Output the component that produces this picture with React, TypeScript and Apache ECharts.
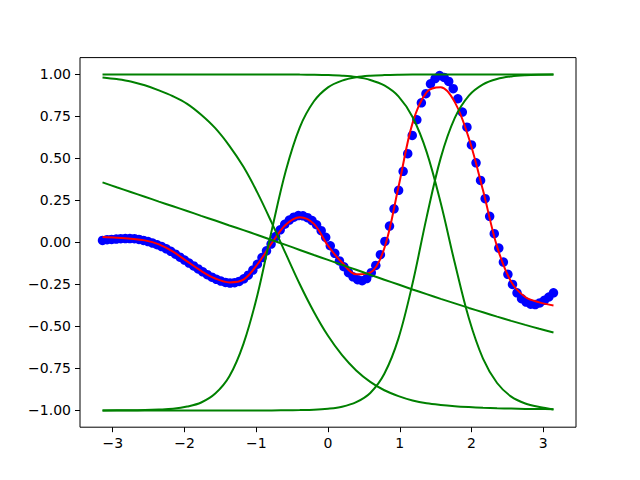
import React, { useEffect, useRef } from "react";
import * as echarts from "echarts";

// Sample positions of the blue observations (x) and their values (y)
const dotX = [
  -3.142, -3.078, -3.015, -2.951, -2.888, -2.824, -2.761, -2.697, -2.634, -2.571,
  -2.507, -2.444, -2.38, -2.317, -2.253, -2.19, -2.126, -2.063, -1.999, -1.936,
  -1.872, -1.809, -1.745, -1.682, -1.618, -1.555, -1.492, -1.428, -1.365, -1.301,
  -1.238, -1.174, -1.111, -1.047, -0.984, -0.92, -0.857, -0.793, -0.73, -0.666,
  -0.603, -0.539, -0.476, -0.413, -0.349, -0.286, -0.222, -0.159, -0.095, -0.032,
  0.032, 0.095, 0.159, 0.222, 0.286, 0.349, 0.413, 0.476, 0.539, 0.603,
  0.666, 0.73, 0.793, 0.857, 0.92, 0.984, 1.047, 1.111, 1.174, 1.238,
  1.301, 1.365, 1.428, 1.492, 1.555, 1.618, 1.682, 1.745, 1.809, 1.872,
  1.936, 1.999, 2.063, 2.126, 2.19, 2.253, 2.317, 2.38, 2.444, 2.507,
  2.571, 2.634, 2.697, 2.761, 2.824, 2.888, 2.951, 3.015, 3.078, 3.142,
];
const dotY = [
  0.012, 0.016, 0.018, 0.02, 0.022, 0.023, 0.023, 0.022, 0.018, 0.012,
  0.005, -0.004, -0.014, -0.025, -0.038, -0.053, -0.07, -0.088, -0.105, -0.123,
  -0.14, -0.158, -0.175, -0.192, -0.207, -0.22, -0.23, -0.238, -0.242, -0.24,
  -0.232, -0.217, -0.195, -0.165, -0.13, -0.09, -0.05, -0.01, 0.035, 0.075,
  0.108, 0.133, 0.15, 0.16, 0.158, 0.147, 0.13, 0.105, 0.07, 0.03,
  -0.02, -0.065, -0.11, -0.145, -0.18, -0.205, -0.222, -0.228, -0.215, -0.18,
  -0.137, -0.073, 0.006, 0.097, 0.2, 0.31, 0.423, 0.528, 0.637, 0.73,
  0.831, 0.885, 0.944, 0.975, 0.993, 0.982, 0.958, 0.915, 0.855, 0.776,
  0.686, 0.58, 0.474, 0.369, 0.26, 0.155, 0.052, -0.034, -0.117, -0.19,
  -0.25, -0.3, -0.335, -0.355, -0.368, -0.37, -0.36, -0.345, -0.325, -0.3,
];

// Sample positions for the curves
const lineX = [
  -3.142, -2.945, -2.749, -2.553, -2.356, -2.16, -1.963, -1.767, -1.571, -1.374,
  -1.178, -0.982, -0.785, -0.589, -0.393, -0.196, 0, 0.196, 0.393, 0.589,
  0.785, 0.982, 1.178, 1.374, 1.571, 1.767, 1.963, 2.16, 2.356, 2.553,
  2.749, 2.945, 3.142,
];
// Red fitted curve
const fitY = [
  0.032, 0.028, 0.022, 0.012, -0.012, -0.055, -0.113, -0.17, -0.215, -0.238,
  -0.222, -0.13, -0.005, 0.105, 0.15, 0.11, -0.02, -0.12, -0.19, -0.18,
  -0.035, 0.33, 0.71, 0.893, 0.923, 0.835, 0.62, 0.31, -0.025, -0.235,
  -0.325, -0.357, -0.375,
];
// Green hidden-unit curves
const unitA = [
  0.982, 0.972, 0.958, 0.935, 0.905, 0.87, 0.825, 0.76, 0.68, 0.575,
  0.45, 0.295, 0.118, -0.067, -0.249, -0.414, -0.556, -0.671, -0.762, -0.83,
  -0.88, -0.915, -0.941, -0.958, -0.968, -0.975, -0.98, -0.984, -0.987, -0.989,
  -0.991, -0.992, -0.993,
];
const unitB = [
  0.357, 0.328, 0.3, 0.272, 0.243, 0.215, 0.187, 0.158, 0.13, 0.101,
  0.073, 0.044, 0.014, -0.015, -0.045, -0.075, -0.104, -0.134, -0.163, -0.193,
  -0.222, -0.251, -0.28, -0.308, -0.336, -0.363, -0.39, -0.416, -0.442, -0.467,
  -0.491, -0.514, -0.536,
];
const unitC = [
  -1.0, -0.999, -0.999, -0.998, -0.995, -0.99, -0.977, -0.953, -0.9, -0.797,
  -0.604, -0.31, 0.07, 0.425, 0.685, 0.84, 0.923, 0.963, 0.983, 0.992,
  0.996, 0.998, 0.999, 0.999, 1.0, 1.0, 1.0, 1.0, 1.0, 1.0,
  1.0, 1.0, 1.0,
];
const unitD = [
  -1.0, -1.0, -1.0, -1.0, -1.0, -1.0, -1.0, -1.0, -1.0, -1.0,
  -1.0, -1.0, -1.0, -0.999, -0.998, -0.996, -0.99, -0.978, -0.951, -0.896,
  -0.782, -0.571, -0.245, 0.149, 0.503, 0.741, 0.874, 0.941, 0.973, 0.988,
  0.995, 0.998, 0.999,
];
const unitE = [
  1.0, 1.0, 1.0, 1.0, 1.0, 1.0, 1.0, 1.0, 1.0, 1.0,
  1.0, 1.0, 1.0, 1.0, 0.999, 0.998, 0.996, 0.992, 0.984, 0.967,
  0.934, 0.869, 0.746, 0.539, 0.234, -0.123, -0.452, -0.692, -0.837, -0.918,
  -0.959, -0.98, -0.994,
];

const xTicks = [-3, -2, -1, 0, 1, 2, 3];
const yTicks = [-1, -0.75, -0.5, -0.25, 0, 0.25, 0.5, 0.75, 1];

const pairs = (xs: number[], ys: number[]) => xs.map((x, i) => [x, ys[i]]);
const minus = (s: string) => s.replace("-", "\u2212");

export default function App() {
  const ref = useRef<HTMLDivElement>(null);
  useEffect(() => {
    const chart = echarts.init(ref.current!, null, { renderer: "svg" });
    const font = { color: "#000", fontSize: 14, fontFamily: "DejaVu Sans" };
    const green = (ys: number[]) => ({
      type: "line",
      data: pairs(lineX, ys),
      showSymbol: false,
      smooth: 0.35,
      lineStyle: { color: "#008000", width: 2 },
      itemStyle: { color: "#008000" },
      z: 4,
    });
    chart.setOption({
      animation: false,
      backgroundColor: "#ffffff",
      grid: {
        left: 80,
        right: 64,
        top: 57.6,
        bottom: 52.8,
        show: true,
        borderColor: "#000",
        borderWidth: 1,
        backgroundColor: "transparent",
      },
      xAxis: {
        type: "value",
        min: -3.4558,
        max: 3.4558,
        axisLine: { show: false, onZero: false },
        splitLine: { show: false },
        axisTick: {
          show: true,
          length: 5,
          lineStyle: { color: "#000", width: 1 },
          customValues: xTicks,
        },
        axisLabel: {
          ...font,
          margin: 9,
          customValues: xTicks,
          formatter: (v: number) => minus(String(v)),
        },
      },
      yAxis: {
        type: "value",
        min: -1.1,
        max: 1.1,
        axisLine: { show: false, onZero: false },
        splitLine: { show: false },
        axisTick: {
          show: true,
          length: 5,
          lineStyle: { color: "#000", width: 1 },
          customValues: yTicks,
        },
        axisLabel: {
          ...font,
          margin: 9,
          customValues: yTicks,
          formatter: (v: number) => minus(v.toFixed(2)),
        },
      },
      series: [
        {
          type: "scatter",
          data: pairs(dotX, dotY),
          symbol: "circle",
          symbolSize: 9.5,
          itemStyle: { color: "#0000ff", opacity: 1 },
          z: 2,
        },
        {
          type: "line",
          data: pairs(lineX, fitY),
          showSymbol: false,
          smooth: 0.35,
          lineStyle: { color: "#ff0000", width: 2 },
          itemStyle: { color: "#ff0000" },
          z: 3,
        },
        green(unitA),
        green(unitB),
        green(unitC),
        green(unitD),
        green(unitE),
      ],
    });
    return () => chart.dispose();
  }, []);
  return (
    <div
      ref={ref}
      style={{ position: "absolute", left: 0, top: 0, width: 640, height: 480 }}
    />
  );
}
